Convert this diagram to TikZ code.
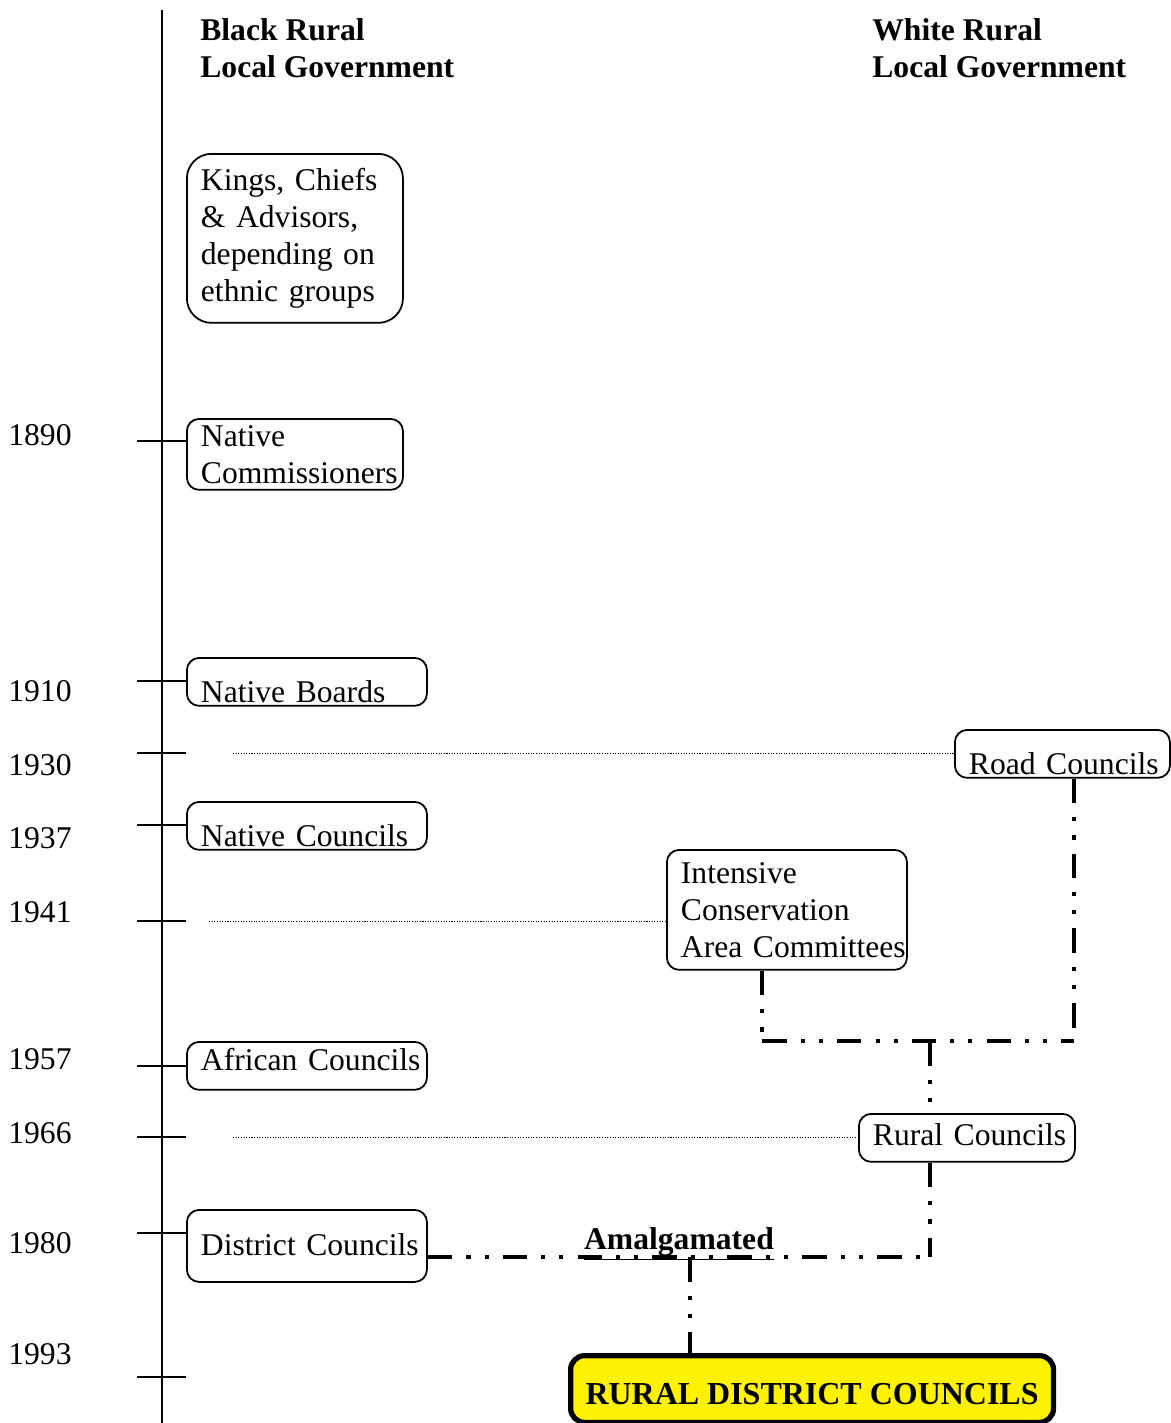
\documentclass[tikz,border=0pt]{standalone}
\usepackage{fontspec}
\setmainfont{Liberation Serif}
\usetikzlibrary{calc}
\hyphenpenalty=10000

\tikzset{
  govbox/.style={draw, line width=1pt, rounded corners=7pt, anchor=north west,
    align=left, inner xsep=8pt, inner ysep=0pt, font=\fontsize{18}{21}\selectfont},
  lowtext/.style={text height=25.6pt, text depth=1.7pt},
  merge/.style={line width=2.3pt, dash pattern=on 14pt off 8pt on 2.3pt off 8pt on 2.3pt off 8pt},
  guide/.style={line width=0.5pt, dash pattern=on 0.6pt off 0.9pt},
  yearlabel/.style={anchor=west, inner sep=0pt, font=\fontsize{18}{21}\selectfont},
  header/.style={anchor=west, align=left, inner sep=0pt, font=\bfseries\fontsize{18}{21}\selectfont},
}

\begin{document}
\begin{tikzpicture}[x=0.02cm, y=-0.02cm]

    \useasboundingbox (0,0) rectangle (1170,1423);

    % time axis
    \draw[line width=1.1pt] (162,10) -- (162,1423);

    % headings
    \node[header] (black) at (200,48) {Black Rural\\Local Government};
    \node[header] (white) at (872,48) {White Rural\\Local Government};

    % years and tick marks
    \foreach \yr/\ty/\ly in {1890/441/435, 1910/681/691, 1930/753/765, 1937/825/838,
        1941/921/912, 1957/1066/1059, 1966/1137/1133, 1980/1233/1243, 1993/1377/1354} {
        \draw[line width=1.1pt] (137,\ty) -- (186,\ty);
        \node[yearlabel] (y\yr) at (8,\ly) {\yr};
    }

    % black local government
    \node[govbox, rounded corners=14pt, text width=3.76cm, minimum height=3.38cm] (kings) at (186,153)
        {Kings,~Chiefs\\\&~Advisors,\\depending~on\\ethnic~groups};
    \node[govbox, text width=3.76cm, minimum height=1.42cm] (natcom) at (186,418)
        {Native\\Commissioners};
    \node[govbox, lowtext, text width=4.24cm] (boards) at (186,657) {Native~Boards};
    \node[govbox, lowtext, text width=4.24cm] (natcoun) at (186,801) {Native~Councils};
    \node[govbox, text width=4.24cm, text height=16.5pt, text depth=10.8pt] (african) at (186,1041)
        {African~Councils};
    \node[govbox, text width=4.24cm, text height=26pt, text depth=15pt] (district) at (186,1209)
        {District~Councils};

    % white local government
    \node[govbox, lowtext, text width=3.74cm] (road) at (954,729) {Road~Councils};
    \node[govbox, text width=4.24cm, minimum height=2.4cm] (icac) at (666,849)
        {Intensive\\Conservation\\Area~Committees};
    \node[govbox, text width=3.76cm, text height=18pt, text depth=9.3pt] (rural) at (858,1113)
        {Rural~Councils};

    % result
    \node[govbox, line width=3pt, rounded corners=8pt, fill=yellow, align=center,
        minimum width=9.66cm, text height=28pt, text depth=10pt,
        font=\bfseries\fontsize{18.2}{21}\selectfont] (rdc) at (568,1353)
        {RURAL DISTRICT COUNCILS};

    % dotted guides from the axis
    \coordinate (g30) at (233,753);
    \coordinate (g41) at (209,921);
    \coordinate (g66) at (233,1137);
    \draw[guide] (g30) -- (g30 -| road.west);
    \draw[guide] (g41) -- (g41 -| icac.west);
    \draw[guide] (g66) -- (g66 -| rural.west);

    % mergers
    \coordinate (j1) at (762,1041);
    \coordinate (j2) at (1074,1041);
    \coordinate (j3) at (930,1041);
    \coordinate (j4) at (930,1257);
    \coordinate (j5) at (690,1257);
    \draw[merge] (icac.south -| j1) -- (j1);
    \draw[merge] (road.south -| j2) -- (j2);
    \draw[merge] (j1) -- (j2);
    \draw[merge] (j3) -- (rural.north -| j3);
    \draw[merge] (rural.south -| j4) -- (j4);
    \draw[merge] (district.east |- j4) -- (j4);
    \draw[merge] (j5) -- (rdc.north -| j5);

    \node[inner sep=0pt, font=\bfseries\fontsize{18}{21}\selectfont] (amal) at (679,1244)
        {\underline{Amalgamated}};

\end{tikzpicture}
\end{document}
